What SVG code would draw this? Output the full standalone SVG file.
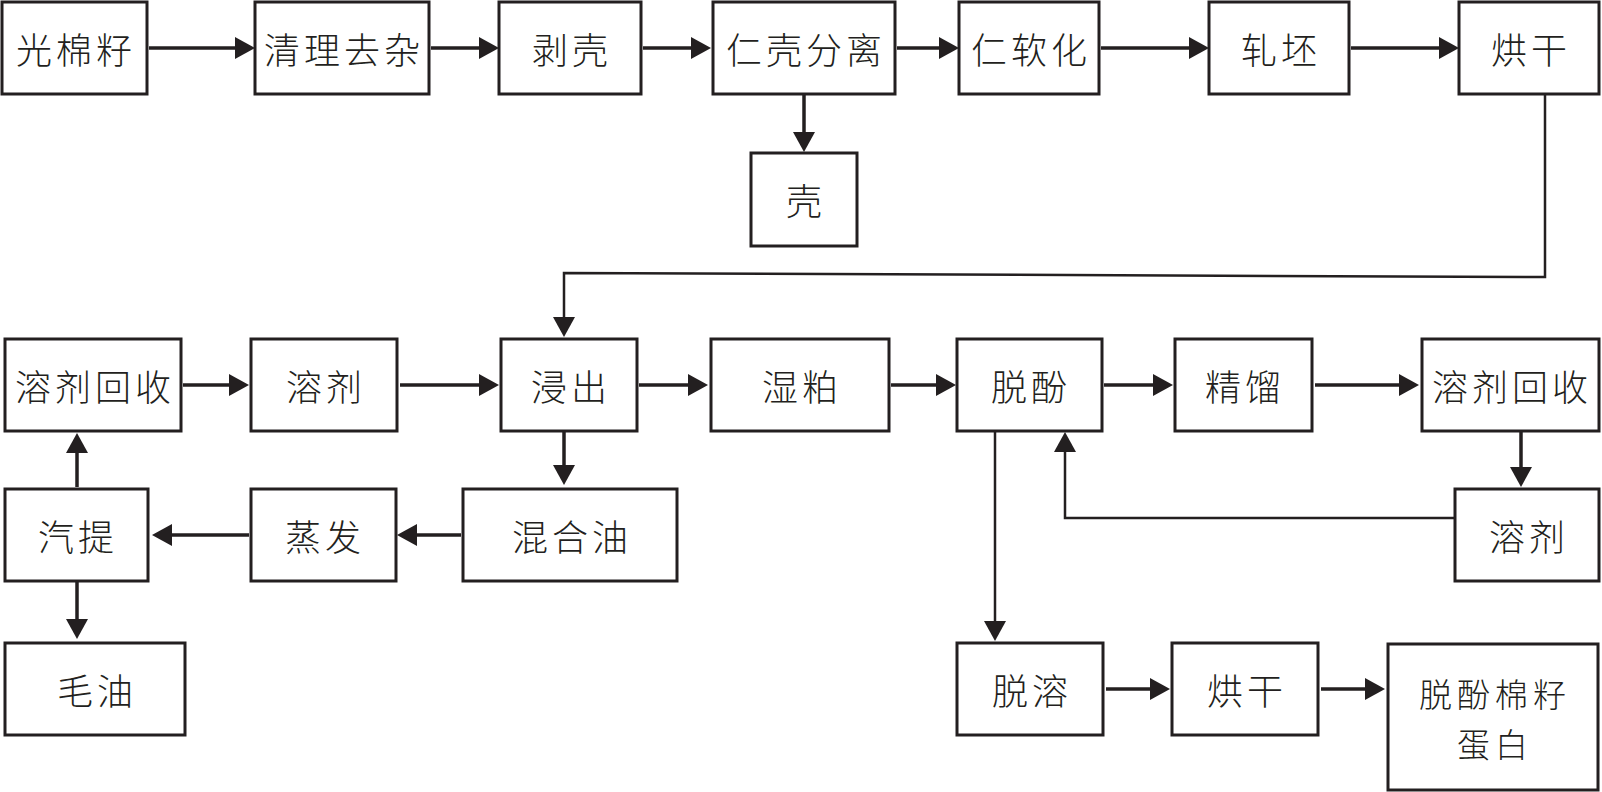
<svg xmlns="http://www.w3.org/2000/svg" width="1602" height="792" viewBox="0 0 1602 792">
<defs>
<style>
.box{fill:#fff;stroke:#231f20;stroke-width:3}
.lbl{font-family:"Noto Sans CJK SC","Noto Sans",sans-serif;font-size:36px;font-weight:300;letter-spacing:4px;fill:#231f20;text-anchor:middle;dominant-baseline:central}
.sm{font-size:33px;letter-spacing:5px}
.arr{fill:none;stroke:#231f20;stroke-width:3.5;marker-end:url(#ah)}
.thinarr{fill:none;stroke:#231f20;stroke-width:2.5;marker-end:url(#ah)}
</style>
<marker id="ah" markerUnits="userSpaceOnUse" markerWidth="20" markerHeight="22" refX="2" refY="11" orient="auto" overflow="visible">
<path d="M0,0 L20,11 L0,22 Z" fill="#231f20"/>
</marker>
</defs>
<rect width="1602" height="792" fill="#fff"/>

<g id="n-guangmianzi"><rect class="box" x="2" y="2" width="145" height="92"/><text class="lbl" x="76" y="48">光棉籽</text></g>
<g id="n-qingli"><rect class="box" x="255" y="2" width="174" height="92"/><text class="lbl" x="344" y="48">清理去杂</text></g>
<g id="n-boke"><rect class="box" x="499" y="2" width="142" height="92"/><text class="lbl" x="572" y="48">剥壳</text></g>
<g id="n-renkefenli"><rect class="box" x="713" y="2" width="182" height="92"/><text class="lbl" x="806" y="48">仁壳分离</text></g>
<g id="n-ke"><rect class="box" x="751" y="153" width="106" height="93"/><text class="lbl" x="806" y="199">壳</text></g>
<g id="n-renruanhua"><rect class="box" x="959" y="2" width="140" height="92"/><text class="lbl" x="1031" y="48">仁软化</text></g>
<g id="n-yapi"><rect class="box" x="1209" y="2" width="140" height="92"/><text class="lbl" x="1281" y="48">轧坯</text></g>
<g id="n-honggan1"><rect class="box" x="1459" y="2" width="140" height="92"/><text class="lbl" x="1531" y="48">烘干</text></g>

<g id="n-rjhs-left"><rect class="box" x="5" y="339" width="176" height="92"/><text class="lbl" x="95" y="385">溶剂回收</text></g>
<g id="n-rongji-left"><rect class="box" x="251" y="339" width="146" height="92"/><text class="lbl" x="326" y="385">溶剂</text></g>
<g id="n-jinchu"><rect class="box" x="501" y="339" width="136" height="92"/><text class="lbl" x="571" y="385">浸出</text></g>
<g id="n-shipo"><rect class="box" x="711" y="339" width="178" height="92"/><text class="lbl" x="802" y="385">湿粕</text></g>
<g id="n-tuofen"><rect class="box" x="957" y="339" width="145" height="92"/><text class="lbl" x="1031" y="385">脱酚</text></g>
<g id="n-jingliu"><rect class="box" x="1175" y="339" width="137" height="92"/><text class="lbl" x="1245" y="385">精馏</text></g>
<g id="n-rjhs-right"><rect class="box" x="1422" y="339" width="177" height="92"/><text class="lbl" x="1512" y="385">溶剂回收</text></g>

<g id="n-qiti"><rect class="box" x="5" y="489" width="143" height="92"/><text class="lbl" x="78" y="535">汽提</text></g>
<g id="n-zhengfa"><rect class="box" x="251" y="489" width="145" height="92"/><text class="lbl" x="325" y="535">蒸发</text></g>
<g id="n-hunheyou"><rect class="box" x="463" y="489" width="214" height="92"/><text class="lbl" x="572" y="535">混合油</text></g>
<g id="n-rongji-right"><rect class="box" x="1455" y="489" width="144" height="92"/><text class="lbl" x="1529" y="535">溶剂</text></g>

<g id="n-maoyou"><rect class="box" x="5" y="643" width="180" height="92"/><text class="lbl" x="97" y="689">毛油</text></g>
<g id="n-tuorong"><rect class="box" x="957" y="643" width="146" height="92"/><text class="lbl" x="1032" y="689">脱溶</text></g>
<g id="n-honggan2"><rect class="box" x="1172" y="643" width="146" height="92"/><text class="lbl" x="1247" y="689">烘干</text></g>
<g id="n-danbai"><rect class="box" x="1388" y="644" width="210" height="146"/><text class="lbl sm" x="1495" y="693">脱酚棉籽</text><text class="lbl sm" x="1495" y="743">蛋白</text></g>

<g id="connectors">
<line class="arr" x1="149" y1="48" x2="237" y2="48"/>
<line class="arr" x1="431" y1="48" x2="481" y2="48"/>
<line class="arr" x1="643" y1="48" x2="693" y2="48"/>
<line class="arr" x1="897" y1="48" x2="941" y2="48"/>
<line class="arr" x1="1101" y1="48" x2="1191" y2="48"/>
<line class="arr" x1="1351" y1="48" x2="1441" y2="48"/>
<line class="arr" x1="804" y1="95" x2="804" y2="134"/>
<polyline class="thinarr" points="1545,94 1545,277 564,273 564,319"/>

<line class="arr" x1="183" y1="385" x2="231" y2="385"/>
<line class="arr" x1="400" y1="385" x2="481" y2="385"/>
<line class="arr" x1="639" y1="385" x2="690" y2="385"/>
<line class="arr" x1="891" y1="385" x2="938" y2="385"/>
<line class="arr" x1="1104" y1="385" x2="1155" y2="385"/>
<line class="arr" x1="1315" y1="385" x2="1401" y2="385"/>

<line class="arr" x1="564" y1="432" x2="564" y2="467"/>
<line class="arr" x1="1521" y1="432" x2="1521" y2="469"/>
<line class="arr" x1="461" y1="535" x2="415" y2="535"/>
<line class="arr" x1="249" y1="535" x2="170" y2="535"/>
<line class="arr" x1="77" y1="487" x2="77" y2="451"/>
<line class="arr" x1="77" y1="582" x2="77" y2="621"/>

<polyline class="thinarr" points="1455,518 1065,518 1065,450"/>
<line class="thinarr" x1="995" y1="432" x2="995" y2="623"/>

<line class="arr" x1="1106" y1="689" x2="1152" y2="689"/>
<line class="arr" x1="1321" y1="689" x2="1367" y2="689"/>
</g>
</svg>
